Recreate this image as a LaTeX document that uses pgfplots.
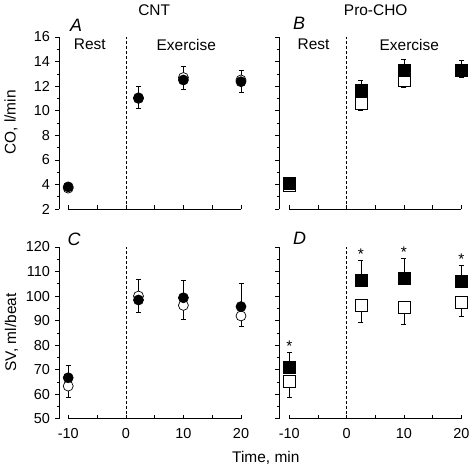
\documentclass[border=0pt]{standalone}
\usepackage{fontspec}
\setmainfont{Liberation Sans}
\usepackage{pgfplots}
\pgfplotsset{compat=1.18}
\newcommand{\tf}{\fontsize{15.5}{18}\selectfont}
\newcommand{\lf}{\fontsize{18}{20}\selectfont\itshape}
\pgfplotsset{
  panel/.style={
    scale only axis, width=182bp, clip=false,
    axis line style={draw=none},
    tick align=outside, xtick pos=bottom, ytick pos=left,
    major tick length=4bp, minor tick length=2bp,
    tick style={black, line width=0.6bp},
    x tick style={yshift=4bp},
    xtick={-10,-5,0,5,10,15,20},
    xmax=20,
    ticklabel style={font=\fontsize{14.5}{17}\selectfont},
    yticklabel style={xshift=-1.5bp},
    xticklabel style={yshift=-2bp},
    minor y tick num=1,
  },
  ebplus/.style={draw=none, mark=none, forget plot,
    error bars/.cd, y dir=plus, y explicit,
    error bar style={draw=black, line width=0.6bp},
    error mark options={rotate=90, mark size=2.5bp, draw=black, line width=0.6bp}},
  ebminus/.style={draw=none, mark=none, forget plot,
    error bars/.cd, y dir=minus, y explicit,
    error bar style={draw=black, line width=0.6bp},
    error mark options={rotate=90, mark size=2.5bp, draw=black, line width=0.6bp}},
  opencirc/.style={only marks, mark=*, mark size=5bp, mark options={fill=white, draw=black, line width=0.7bp}},
  fillcirc/.style={only marks, mark=*, mark size=5bp, mark options={fill=black, draw=black, line width=0.7bp}},
  opensq/.style={only marks, mark=square*, mark size=6bp, mark options={fill=white, draw=black, line width=0.7bp}},
  fillsq/.style={only marks, mark=square*, mark size=6bp, mark options={fill=black, draw=black, line width=0.7bp}},
  zeroline/.style={black, line width=0.6bp, dash pattern=on 3bp off 2bp, forget plot},
}
\begin{document}
\begin{tikzpicture}
\useasboundingbox (0bp,0bp) rectangle (472bp,468bp);

% ---------- Panel A ----------
\begin{axis}[panel, at={(59bp,259bp)}, anchor=south west, height=172bp,
  xmin=-11.6, ymin=2, ymax=16, ytick={2,4,...,16},
  yticklabels={2,4,6,8,10,12,14,16}, xticklabels={}]
\draw[line width=0.8bp] (rel axis cs:0,0) -- (rel axis cs:0,1);
\draw[line width=0.8bp] (axis cs:-10,2) -- (axis cs:20,2);
\addplot[zeroline] coordinates {(0,2) (0,16)};
\addplot[ebplus] coordinates {(2.2,11.05) +- (0,0.95) (10,12.7) +- (0,0.9) (20,12.5) +- (0,0.75)};
\addplot[ebminus] coordinates {(2.2,11.05) +- (0,0.85) (10,12.5) +- (0,0.76) (20,12.36) +- (0,0.9)};
\addplot[opencirc] coordinates {(-10,3.7) (2.2,11.0) (10,12.7) (20,12.5)};
\addplot[fillcirc] coordinates {(-10,3.8) (2.2,11.05) (10,12.5) (20,12.36)};
\end{axis}

% ---------- Panel B ----------
\begin{axis}[panel, at={(279.3bp,259bp)}, anchor=south west, height=172bp,
  xmin=-11.74, ymin=2, ymax=16, ytick={2,4,...,16},
  yticklabels={}, xticklabels={}]
\draw[line width=0.8bp] (rel axis cs:0,0) -- (rel axis cs:0,1);
\draw[line width=0.8bp] (axis cs:-10,2) -- (axis cs:20,2);
\addplot[zeroline] coordinates {(0,2) (0,16)};
\addplot[ebplus] coordinates {(2.5,11.68) +- (0,0.76) (10,13.26) +- (0,0.92) (20,13.3) +- (0,0.77)};
\addplot[ebminus] coordinates {(2.5,10.6) +- (0,0.55) (10,12.5) +- (0,0.6) (20,13.3) +- (0,0.62)};
\addplot[opensq] coordinates {(-10,3.95) (2.5,10.6) (10,12.5) (20,13.3)};
\addplot[fillsq] coordinates {(-10,4.09) (2.5,11.68) (10,13.26) (20,13.3)};
\end{axis}

% ---------- Panel C ----------
\begin{axis}[panel, at={(59bp,49.3bp)}, anchor=south west, height=171.7bp,
  xmin=-11.6, ymin=50, ymax=120, ytick={50,60,...,120},
  yticklabels={50,60,70,80,90,100,110,120},
  xticklabels={-10,,0,,10,,20}]
\draw[line width=0.8bp] (rel axis cs:0,0) -- (rel axis cs:0,1);
\draw[line width=0.8bp] (axis cs:-10,50) -- (axis cs:20,50);
\addplot[zeroline] coordinates {(0,50) (0,120)};
\addplot[ebplus] coordinates {(-10,66.7) +- (0,5.1) (2.2,100.0) +- (0,6.8) (10,99.3) +- (0,7.2) (20,95.7) +- (0,9.7)};
\addplot[ebminus] coordinates {(-10,63.3) +- (0,4.5) (2.2,98.4) +- (0,5.2) (10,96.2) +- (0,5.7) (20,91.9) +- (0,4.4)};
\addplot[opencirc] coordinates {(-10,63.3) (2.2,100.0) (10,96.2) (20,91.9)};
\addplot[fillcirc] coordinates {(-10,66.7) (2.2,98.4) (10,99.3) (20,95.7)};
\end{axis}

% ---------- Panel D ----------
\begin{axis}[panel, at={(279.3bp,49.3bp)}, anchor=south west, height=171.7bp,
  xmin=-11.74, ymin=50, ymax=120, ytick={50,60,...,120},
  yticklabels={}, xticklabels={-10,,0,,10,,20}]
\draw[line width=0.8bp] (rel axis cs:0,0) -- (rel axis cs:0,1);
\draw[line width=0.8bp] (axis cs:-10,50) -- (axis cs:20,50);
\addplot[zeroline] coordinates {(0,50) (0,120)};
\addplot[ebplus] coordinates {(-10,71.1) +- (0,6.1) (2.5,106.4) +- (0,8.2) (10,107.2) +- (0,8.0) (20,106.1) +- (0,6.4)};
\addplot[ebminus] coordinates {(-10,65.1) +- (0,6.5) (2.5,96.2) +- (0,6.8) (10,95.5) +- (0,7.0) (20,97.6) +- (0,5.7)};
\addplot[opensq] coordinates {(-10,65.1) (2.5,96.2) (10,95.5) (20,97.6)};
\addplot[fillsq] coordinates {(-10,71.1) (2.5,106.4) (10,107.2) (20,106.1)};
\addplot[only marks, mark=none, nodes near coords={*},
  every node near coord/.append style={anchor=center, inner sep=0pt, font=\tf}]
  coordinates {(-10,79.6) (2.5,117.0) (10,117.8) (20,115.0)};
\end{axis}

% ---------- Text ----------
\node[font=\tf] at (154.2bp,457.7bp) {CNT};
\node[font=\tf] at (375.7bp,457.7bp) {Pro-CHO};
\node[font=\lf, inner sep=0pt] at (76bp,443bp) {A};
\node[font=\lf, inner sep=0pt] at (299bp,445bp) {B};
\node[font=\lf, inner sep=0pt] at (74bp,228.5bp) {C};
\node[font=\lf, inner sep=0pt] at (299.5bp,229.4bp) {D};
\node[font=\tf, inner sep=0pt] at (89.8bp,424bp) {Rest};
\node[font=\tf, inner sep=0pt] at (186.3bp,423.5bp) {Exercise};
\node[font=\tf, inner sep=0pt] at (313.5bp,424bp) {Rest};
\node[font=\tf, inner sep=0pt] at (409.3bp,423.5bp) {Exercise};
\node[font=\tf, rotate=90, anchor=base, inner sep=0pt] at (15.5bp,345.5bp) {CO, l/min};
\node[font=\tf, rotate=90, anchor=base, inner sep=0pt] at (16bp,135.3bp) {SV, ml/beat};
\node[font=\tf, anchor=base, inner sep=0pt] at (265.8bp,5.2bp) {Time, min};
\end{tikzpicture}
\end{document}
